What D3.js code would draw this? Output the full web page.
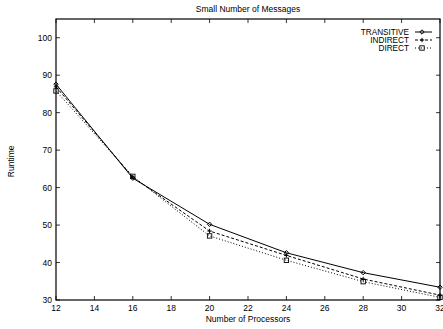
<!DOCTYPE html>
<html>
<head>
<meta charset="utf-8">
<script src="https://cdn.jsdelivr.net/npm/d3@7"></script>
<style>
  body { margin: 0; background: #fff; }
  text { font-family: "Liberation Sans", Arial, sans-serif; fill: #000; }
</style>
</head>
<body>
<div id="chart"></div>
<script>
const processors = [12, 16, 20, 24, 28, 32]
const transitive = [87.6, 62.5, 50.2, 42.6, 37.3, 33.4]
const indirect = [86.9, 62.8, 48.4, 41.9, 35.6, 31.3]
const direct = [85.8, 63.0, 47.1, 40.6, 34.9, 30.7]
const xTicks = [12, 14, 16, 18, 20, 22, 24, 26, 28, 30, 32]
const yTicks = [30, 40, 50, 60, 70, 80, 90, 100]

const width = 443
const height = 329
const margin = { left: 56, right: 3, top: 19, bottom: 29 }

const svg = d3.select('#chart').append('svg')
    .attr('width', width)
    .attr('height', height)

const x = d3.scaleLinear().domain([12, 32]).range([margin.left, width - margin.right])
const y = d3.scaleLinear().domain([30, 105]).range([height - margin.bottom, margin.top])

// ticks, inward on all four sides
const tickLen = 4
const g = svg.append('g').attr('stroke', '#000').attr('stroke-width', 0.8)
xTicks.forEach(d => {
    g.append('line').attr('x1', x(d)).attr('x2', x(d))
        .attr('y1', y(30)).attr('y2', y(30) - tickLen)
    g.append('line').attr('x1', x(d)).attr('x2', x(d))
        .attr('y1', y(105)).attr('y2', y(105) + tickLen)
})
yTicks.forEach(d => {
    g.append('line').attr('y1', y(d)).attr('y2', y(d))
        .attr('x1', x(12)).attr('x2', x(12) + tickLen)
    g.append('line').attr('y1', y(d)).attr('y2', y(d))
        .attr('x1', x(32)).attr('x2', x(32) - tickLen)
})

svg.append('rect')
    .attr('x', x(12)).attr('y', y(105))
    .attr('width', x(32) - x(12)).attr('height', y(30) - y(105))
    .attr('fill', 'none').attr('stroke', '#000').attr('stroke-width', 1.2)

svg.selectAll('.xt').data(xTicks).join('text')
    .attr('x', d => x(d)).attr('y', y(30) + 11)
    .attr('text-anchor', 'middle').attr('font-size', 8.5)
    .text(d => d)
svg.selectAll('.yt').data(yTicks).join('text')
    .attr('x', x(12) - 4).attr('y', d => y(d) + 3)
    .attr('text-anchor', 'end').attr('font-size', 8.5)
    .text(d => d)

svg.append('text').attr('x', 248).attr('y', 12)
    .attr('text-anchor', 'middle').attr('font-size', 8.5)
    .text('Small Number of Messages')
svg.append('text').attr('x', 248).attr('y', 322)
    .attr('text-anchor', 'middle').attr('font-size', 8.5)
    .text('Number of Processors')
svg.append('text')
    .attr('transform', `translate(14, ${y(67)}) rotate(-90)`)
    .attr('text-anchor', 'middle').attr('font-size', 8.5)
    .text('Runtime')

const series = [
    { name: 'TRANSITIVE', values: transitive, dash: null, mark: 'diamond' },
    { name: 'INDIRECT', values: indirect, dash: '3,2', mark: 'plus' },
    { name: 'DIRECT', values: direct, dash: '1,2', mark: 'square' }
]

const drawMark = (sel, type, cx, cy) => {
    if (type === 'diamond') {
        sel.append('path')
            .attr('d', `M${cx},${cy - 2.2}L${cx + 2.2},${cy}L${cx},${cy + 2.2}L${cx - 2.2},${cy}Z`)
            .attr('fill', 'none').attr('stroke', '#000').attr('stroke-width', 1)
    } else if (type === 'plus') {
        sel.append('path')
            .attr('d', `M${cx - 2.2},${cy}H${cx + 2.2}M${cx},${cy - 2.2}V${cy + 2.2}`)
            .attr('fill', 'none').attr('stroke', '#000').attr('stroke-width', 1)
    } else {
        sel.append('rect')
            .attr('x', cx - 2.2).attr('y', cy - 2.2).attr('width', 4.4).attr('height', 4.4)
            .attr('fill', 'none').attr('stroke', '#000').attr('stroke-width', 0.9)
    }
}

const line = d3.line().x((d, i) => x(processors[i])).y(d => y(d))

series.forEach((s, k) => {
    svg.append('path')
        .attr('d', line(s.values))
        .attr('fill', 'none').attr('stroke', '#000')
        .attr('stroke-width', 1)
        .attr('stroke-dasharray', s.dash)
    s.values.forEach((v, i) => drawMark(svg, s.mark, x(processors[i]), y(v)))

    // legend
    const ly = 32 + k * 8
    svg.append('text').attr('x', 409).attr('y', ly + 3)
        .attr('text-anchor', 'end').attr('font-size', 8.2)
        .text(s.name)
    svg.append('line').attr('x1', 415).attr('x2', 432)
        .attr('y1', ly).attr('y2', ly)
        .attr('stroke', '#000').attr('stroke-width', 1)
        .attr('stroke-dasharray', s.dash)
    drawMark(svg, s.mark, 422, ly)
})
</script>
</body>
</html>
